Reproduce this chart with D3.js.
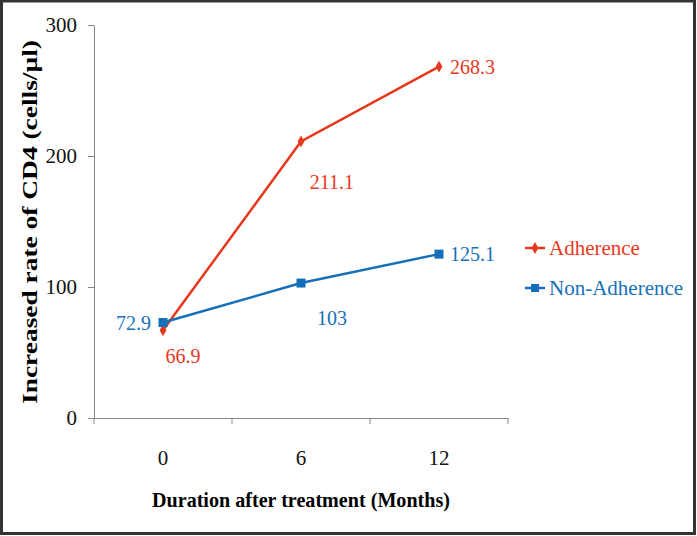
<!DOCTYPE html>
<html><head><meta charset="utf-8">
<script src="https://cdn.jsdelivr.net/npm/d3@7"></script>
<style>body{margin:0;background:#fff}svg{display:block}</style>
</head><body>
<svg id="c" width="697" height="536"></svg>
<script>
const categories = ["0", "6", "12"];
const adherence = [66.9, 211.1, 268.3];
const nonAdherence = [72.9, 103, 125.1];
const yTicks = [0, 100, 200, 300];
const seriesNames = ["Adherence", "Non-Adherence"];
const colors = ["#e8381c", "#1570b9"];

const svg = d3.select("#c");
const font = "'Liberation Serif', 'DejaVu Serif', serif";

svg.append("rect").attr("x", 1.5).attr("y", 1).attr("width", 693).attr("height", 532.5)
  .attr("fill", "#fff").attr("stroke", "#333").attr("stroke-width", 3);

const x = d3.scaleBand().domain(categories).range([94, 508]);
const y = d3.scaleLinear().domain([0, 300]).range([418, 25]);

// Y axis
const ya = svg.append("g").attr("transform", "translate(94,0)")
  .call(d3.axisLeft(y).tickValues(yTicks).tickSize(6).tickSizeOuter(0).tickPadding(11));
ya.select(".domain").attr("stroke", "#888");
ya.selectAll(".tick line").attr("stroke", "#888");
ya.selectAll(".tick text").attr("font-family", font).attr("font-size", 21).attr("fill", "#111");

// X axis
const xa = svg.append("g").attr("transform", "translate(0,418)")
  .call(d3.axisBottom(x).tickSize(0).tickPadding(32));
xa.select(".domain").attr("stroke", "#888");
xa.selectAll(".tick text").attr("font-family", font).attr("font-size", 21).attr("fill", "#111");
const bounds = [94].concat(categories.map(c => x(c) + x.bandwidth()));
xa.selectAll(".bt").data(bounds).enter().append("line")
  .attr("x1", d => d).attr("x2", d => d).attr("y1", 0).attr("y2", 6).attr("stroke", "#888");

// Axis titles
svg.append("text").attr("x", 301).attr("y", 507).attr("text-anchor", "middle")
  .attr("font-family", font).attr("font-weight", "bold").attr("font-size", 21).attr("fill", "#000")
  .attr("textLength", 298).attr("lengthAdjust", "spacingAndGlyphs")
  .text("Duration after treatment (Months)");
svg.append("text").attr("transform", "translate(37,222) rotate(-90)").attr("text-anchor", "middle")
  .attr("font-family", font).attr("font-weight", "bold").attr("font-size", 21).attr("fill", "#000")
  .attr("textLength", 364).attr("lengthAdjust", "spacingAndGlyphs")
  .text("Increased rate of CD4 (cells/\u00b5l)");

const cx = c => x(c) + x.bandwidth() / 2;
const line = d3.line().x((d, i) => cx(categories[i])).y(d => y(d));
const series = [adherence, nonAdherence];

series.forEach((s, k) => {
  svg.append("path").datum(s).attr("d", line).attr("fill", "none")
    .attr("stroke", colors[k]).attr("stroke-width", 2.5);
});

// markers
svg.selectAll(".dm").data(adherence).enter().append("path")
  .attr("d", d3.symbol().type(d3.symbolDiamond).size(40))
  .attr("transform", (d, i) => `translate(${cx(categories[i])},${y(d)})`)
  .attr("fill", colors[0]);
svg.selectAll(".sq").data(nonAdherence).enter().append("rect")
  .attr("x", (d, i) => cx(categories[i]) - 4.5).attr("y", d => y(d) - 4.5)
  .attr("width", 9).attr("height", 9).attr("fill", colors[1]);

// data labels
const adjA = [[20, 33, "middle"], [31, 48, "middle"], [11, 7, "start"]];
const adjN = [[-12, 7, "end"], [31, 42, "middle"], [11, 7, "start"]];
adherence.forEach((d, i) => {
  svg.append("text").attr("x", cx(categories[i]) + adjA[i][0]).attr("y", y(d) + adjA[i][1])
    .attr("text-anchor", adjA[i][2]).attr("font-family", font).attr("font-size", 20)
    .attr("fill", colors[0]).text(d);
});
nonAdherence.forEach((d, i) => {
  svg.append("text").attr("x", cx(categories[i]) + adjN[i][0]).attr("y", y(d) + adjN[i][1])
    .attr("text-anchor", adjN[i][2]).attr("font-family", font).attr("font-size", 20)
    .attr("fill", colors[1]).text(d);
});

// legend
seriesNames.forEach((n, k) => {
  const ly = 248 + k * 40;
  const g = svg.append("g");
  g.append("line").attr("x1", 525).attr("x2", 545).attr("y1", ly).attr("y2", ly)
    .attr("stroke", colors[k]).attr("stroke-width", 2.5);
  if (k === 0) {
    g.append("path").attr("d", d3.symbol().type(d3.symbolDiamond).size(40))
      .attr("transform", `translate(535,${ly})`).attr("fill", colors[k]);
  } else {
    g.append("rect").attr("x", 531).attr("y", ly - 4).attr("width", 8).attr("height", 8).attr("fill", colors[k]);
  }
  g.append("text").attr("x", 549).attr("y", ly + 7).attr("font-family", font).attr("font-size", 21)
    .attr("fill", colors[k]).text(n);
});
</script>
</body></html>
